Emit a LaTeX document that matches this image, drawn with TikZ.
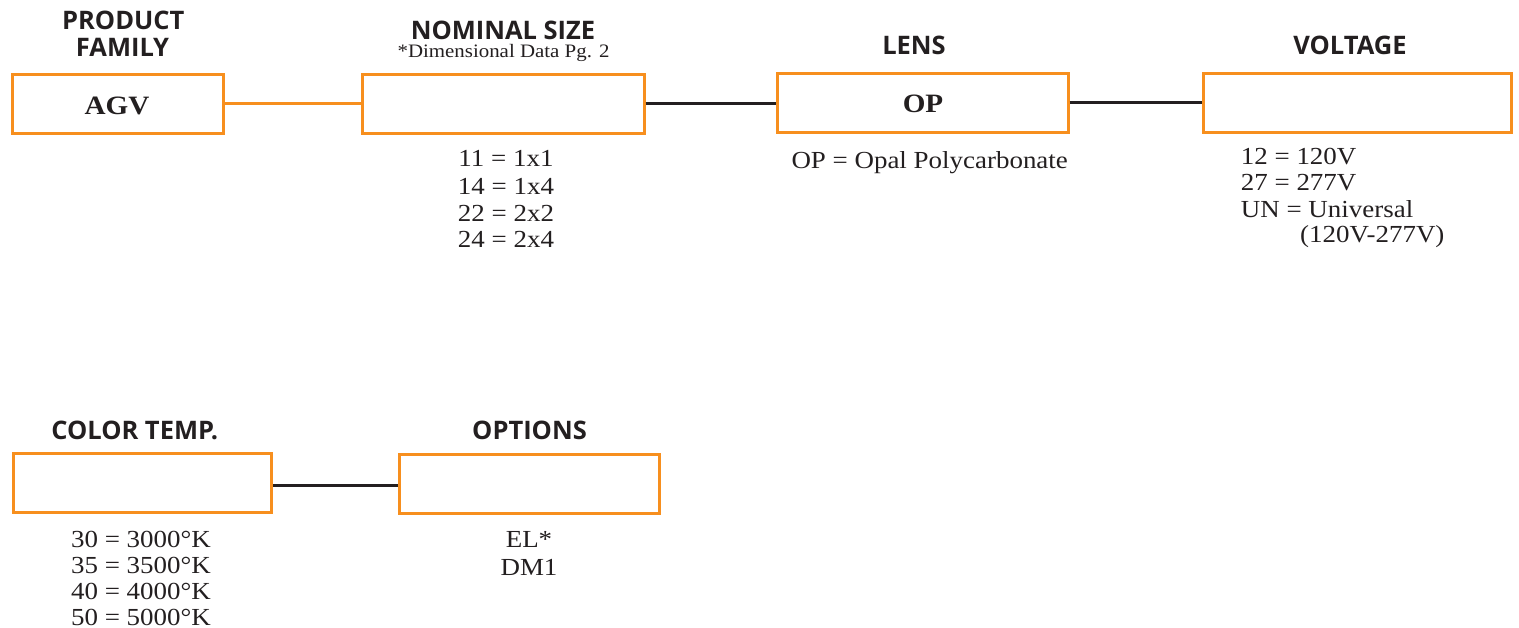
\documentclass[tikz,border=0pt]{standalone}
\usepackage{fontspec}
\setmainfont{Liberation Serif}[FakeStretch=1.1]
\newfontfamily\hdrfont{Open Sans}
\definecolor{orng}{RGB}{247,143,30}
\definecolor{ink}{RGB}{35,31,32}
\begin{document}
\begin{tikzpicture}[x=1pt,y=-1pt,
  box/.style={draw=orng,line width=3pt,minimum width=#1,minimum height=59pt,inner sep=0pt},
  hdr/.style={font=\hdrfont\bfseries\fontsize{25.5}{26.6}\selectfont,text=ink,anchor=base,inner sep=0pt},
  sub/.style={font=\fontsize{19}{21}\selectfont,text=ink,anchor=base,inner sep=0pt},
  body/.style={font=\fontsize{24.5}{26}\selectfont,text=ink,anchor=base,inner sep=0pt},
  val/.style={font=\bfseries\fontsize{26.5}{30}\selectfont,text=ink,anchor=base,inner sep=0pt},
  link/.style={line width=3pt,draw=ink}]
\useasboundingbox (0,0) rectangle (1519,628);

% boxes
\node[box=211pt] (agv)  at (118.3,104) {};
\node[box=282pt] (ns)   at (503,104) {};
\node[box=291pt] (lens) at (922.5,103) {};
\node[box=308pt] (volt) at (1357.5,103) {};
\node[box=258pt] (ct)   at (142.8,483) {};
\node[box=260pt] (opt)  at (529.2,484) {};

% connectors
\draw[link,draw=orng] (agv.east) -- (agv.east -| ns.west);
\draw[link] (ns.east) -- (ns.east -| lens.west);
\draw[link] (lens.east) -- (lens.east -| volt.west);
\draw[link] ([yshift=-2pt]ct.east) -- ([yshift=-2pt]ct.east -| opt.west);

% headers
\node[hdr] (h1a) at (123.3,30) {PRODUCT};
\node[hdr] (h1b) at (122.5,56.7) {FAMILY};
\node[hdr] (h2)  at (503,39.3) {NOMINAL SIZE};
\node[sub] (h2s) at (503.5,57.3) {*Dimensional Data Pg. 2};
\node[hdr] (h3)  at (914,55) {LENS};
\node[hdr] (h4)  at (1350,55) {VOLTAGE};
\node[hdr] (h5)  at (134.7,439.3) {COLOR TEMP.};
\node[hdr] (h6)  at (529.5,439.3) {OPTIONS};

% values in boxes
\node[val] (vagv) at (117,115) {AGV};
\node[val] (vop)  at (923,112.3) {OP};

% nominal size list
\node[body] (n1) at (506,166.7) {11 = 1x1};
\node[body] (n2) at (506,194.3) {14 = 1x4};
\node[body] (n3) at (506,221.7) {22 = 2x2};
\node[body] (n4) at (506,248) {24 = 2x4};

% lens
\node[body] (l1) at (929.7,168.3) {OP = Opal Polycarbonate};

% voltage
\node[body,anchor=base west] (v1) at (1240.7,165) {12 = 120V};
\node[body,anchor=base west] (v2) at (1240.7,190.7) {27 = 277V};
\node[body,anchor=base west] (v3) at (1240.7,217.3) {UN = Universal};
\node[body,anchor=base west] (v4) at (1300,243) {(120V-277V)};

% color temp
\node[body] (c1) at (141,547.3) {30 = 3000°K};
\node[body] (c2) at (141,573.3) {35 = 3500°K};
\node[body] (c3) at (141,599.3) {40 = 4000°K};
\node[body] (c4) at (141,625) {50 = 5000°K};

% options
\node[body] (o1) at (529,547.7) {EL*};
\node[body] (o2) at (529,575) {DM1};
\end{tikzpicture}
\end{document}
